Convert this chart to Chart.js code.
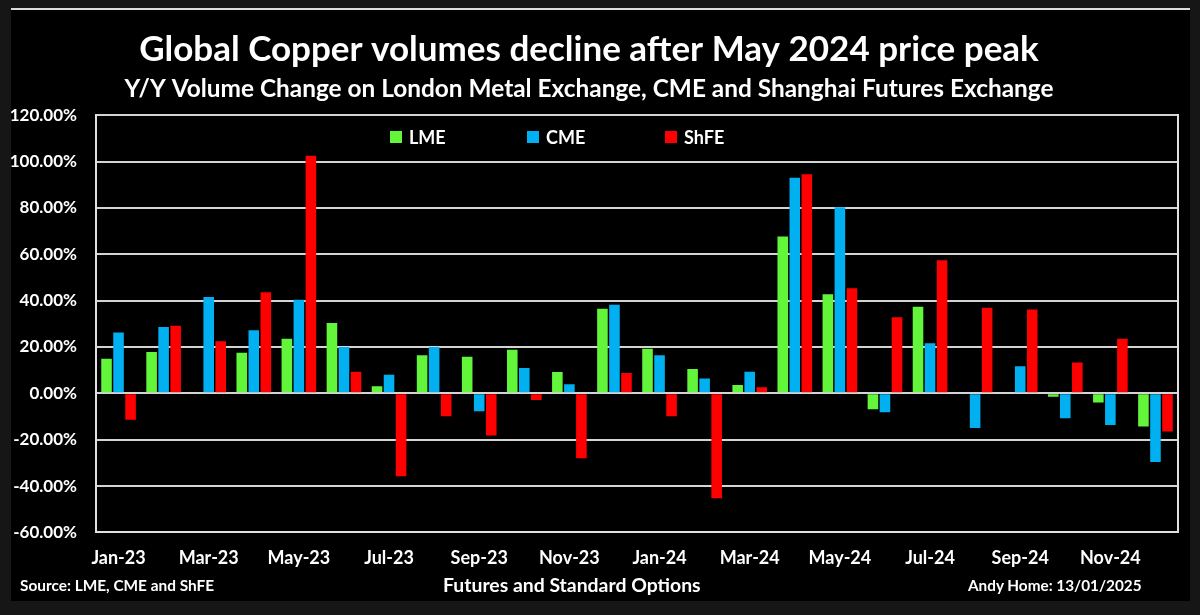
<!DOCTYPE html>
<html>
<head>
<meta charset="utf-8">
<script src="https://cdn.jsdelivr.net/npm/chart.js@4.4.1/dist/chart.umd.min.js"></script>
<style>
  html, body { margin: 0; padding: 0; background: #161616; }
  #wrap { position: relative; width: 1200px; height: 615px; overflow: hidden; font-family: Lato, sans-serif; }
  #panel { position: absolute; left: 11px; top: 8px; width: 1179px; height: 593px; background: #000; border-top: 2px solid #dcdcdc; box-sizing: border-box; }
  canvas { position: absolute; left: 0; top: 0; }
  .foot { position: absolute; color: #fff; font-weight: 700; white-space: nowrap; line-height: 1; }
  .key { position: absolute; top: 127px; display: flex; align-items: center; color: #fff; font-weight: 700; font-size: 18px; line-height: 20px; }
  .key i { display: inline-block; width: 12px; height: 12px; margin-right: 7px; }
</style>
</head>
<body>
<div id="wrap">
  <div id="panel"></div>
  <canvas id="chart" width="1200" height="615"></canvas>
  <div id="legend"></div>
  <div class="foot" style="left:20px; top:578px; font-size:15.4px;">Source: LME, CME and ShFE</div>
  <div class="foot" style="left:443px; top:575px; font-size:19.4px;">Futures and Standard Options</div>
  <div class="foot" style="left:968px; top:578px; font-size:15.3px;">Andy Home: 13/01/2025</div>
</div>
<script>
// monthly Y/Y volume change, %
const months = ['Jan-23', 'Feb-23', 'Mar-23', 'Apr-23', 'May-23', 'Jun-23', 'Jul-23', 'Aug-23', 'Sep-23', 'Oct-23', 'Nov-23', 'Dec-23',
                'Jan-24', 'Feb-24', 'Mar-24', 'Apr-24', 'May-24', 'Jun-24', 'Jul-24', 'Aug-24', 'Sep-24', 'Oct-24', 'Nov-24', 'Dec-24'];
const lme  = [14.9, 17.8, null, 17.5, 23.6, 30.4, 3.1, 16.4, 15.8, 18.8, 9.2, 36.5,
              19.3, 10.5, 3.6, 67.7, 42.8, -6.9, 37.4, null, null, -1.5, -3.9, -14.3];
const cme  = [26.3, 28.6, 41.6, 27.2, 40.4, 20.0, 8.0, 20.0, -7.7, 10.9, 3.9, 38.2,
              16.4, 6.4, 9.3, 93.0, 80.3, -8.2, 21.6, -15.0, 11.7, -10.7, -13.6, -29.6];
const shfe = [-11.4, 29.2, 22.5, 43.6, 102.5, 9.3, -35.8, -9.9, -18.2, -2.9, -28.0, 8.8,
              -9.9, -45.3, 2.6, 94.6, 45.4, 32.8, 57.4, 36.9, 36.2, 13.3, 23.6, -16.5];
const seriesNames = ['LME', 'CME', 'ShFE'];
const seriesColors = ['#62f53a', '#00b0f0', '#ff0000'];
const yMin = -60, yMax = 120, yStep = 20;

Chart.defaults.font.family = 'Lato, sans-serif';
Chart.defaults.color = '#fff';

const chart = new Chart(document.getElementById('chart'), {
  type: 'bar',
  data: {
    labels: months,
    datasets: [lme, cme, shfe].map((d, i) => ({
      label: seriesNames[i], data: d, backgroundColor: seriesColors[i]
    }))
  },
  options: {
    responsive: false,
    animation: false,
    datasets: { bar: { categoryPercentage: 0.8, barPercentage: 0.88, borderWidth: 0 } },
    layout: { padding: { left: 0, right: 22, top: 0, bottom: 31 } },
    scales: {
      x: {
        grid: { display: false, drawTicks: false },
        border: { color: '#e0e0e0', width: 2 },
        ticks: {
          autoSkip: false, maxRotation: 0, padding: 15,
          font: { size: 18, weight: 'bold' }, color: '#fff',
          callback(v, i) { return i % 2 === 0 ? this.getLabelForValue(v) : ''; }
        }
      },
      y: {
        min: yMin, max: yMax,
        afterFit(scale) { scale.width = 96; },
        grid: { color: '#d4d4d4', lineWidth: 2, drawTicks: false },
        border: { color: '#e0e0e0', width: 2 },
        ticks: {
          stepSize: yStep, padding: 19,
          font: { size: 17, weight: 'bold' }, color: '#fff',
          callback: v => v.toFixed(2) + '%'
        }
      },
      y2: {
        position: 'right', min: yMin, max: yMax,
        grid: { drawOnChartArea: false, drawTicks: false },
        border: { color: '#e0e0e0', width: 2 },
        ticks: { display: false }
      }
    },
    plugins: {
      title: {
        display: true, color: '#fff',
        text: 'Global Copper volumes decline after May 2024 price peak',
        font: { size: 35, weight: 'bold' },
        padding: { top: 29, bottom: 0 }
      },
      subtitle: {
        display: true, color: '#fff',
        text: 'Y/Y Volume Change on London Metal Exchange, CME and Shanghai Futures Exchange',
        font: { size: 24.4, weight: 'bold' },
        padding: { top: 4, bottom: 11 }
      },
      legend: { display: false },
      tooltip: { enabled: false }
    }
  }
});

// legend keys inside the plot, built from the datasets
const legendX = [390, 527, 665];
const legendEl = document.getElementById('legend');
chart.data.datasets.forEach((ds, i) => {
  const k = document.createElement('div');
  k.className = 'key';
  k.style.left = legendX[i] + 'px';
  k.innerHTML = '<i style="background:' + ds.backgroundColor + '"></i>' + ds.label;
  legendEl.appendChild(k);
});
</script>
</body>
</html>
